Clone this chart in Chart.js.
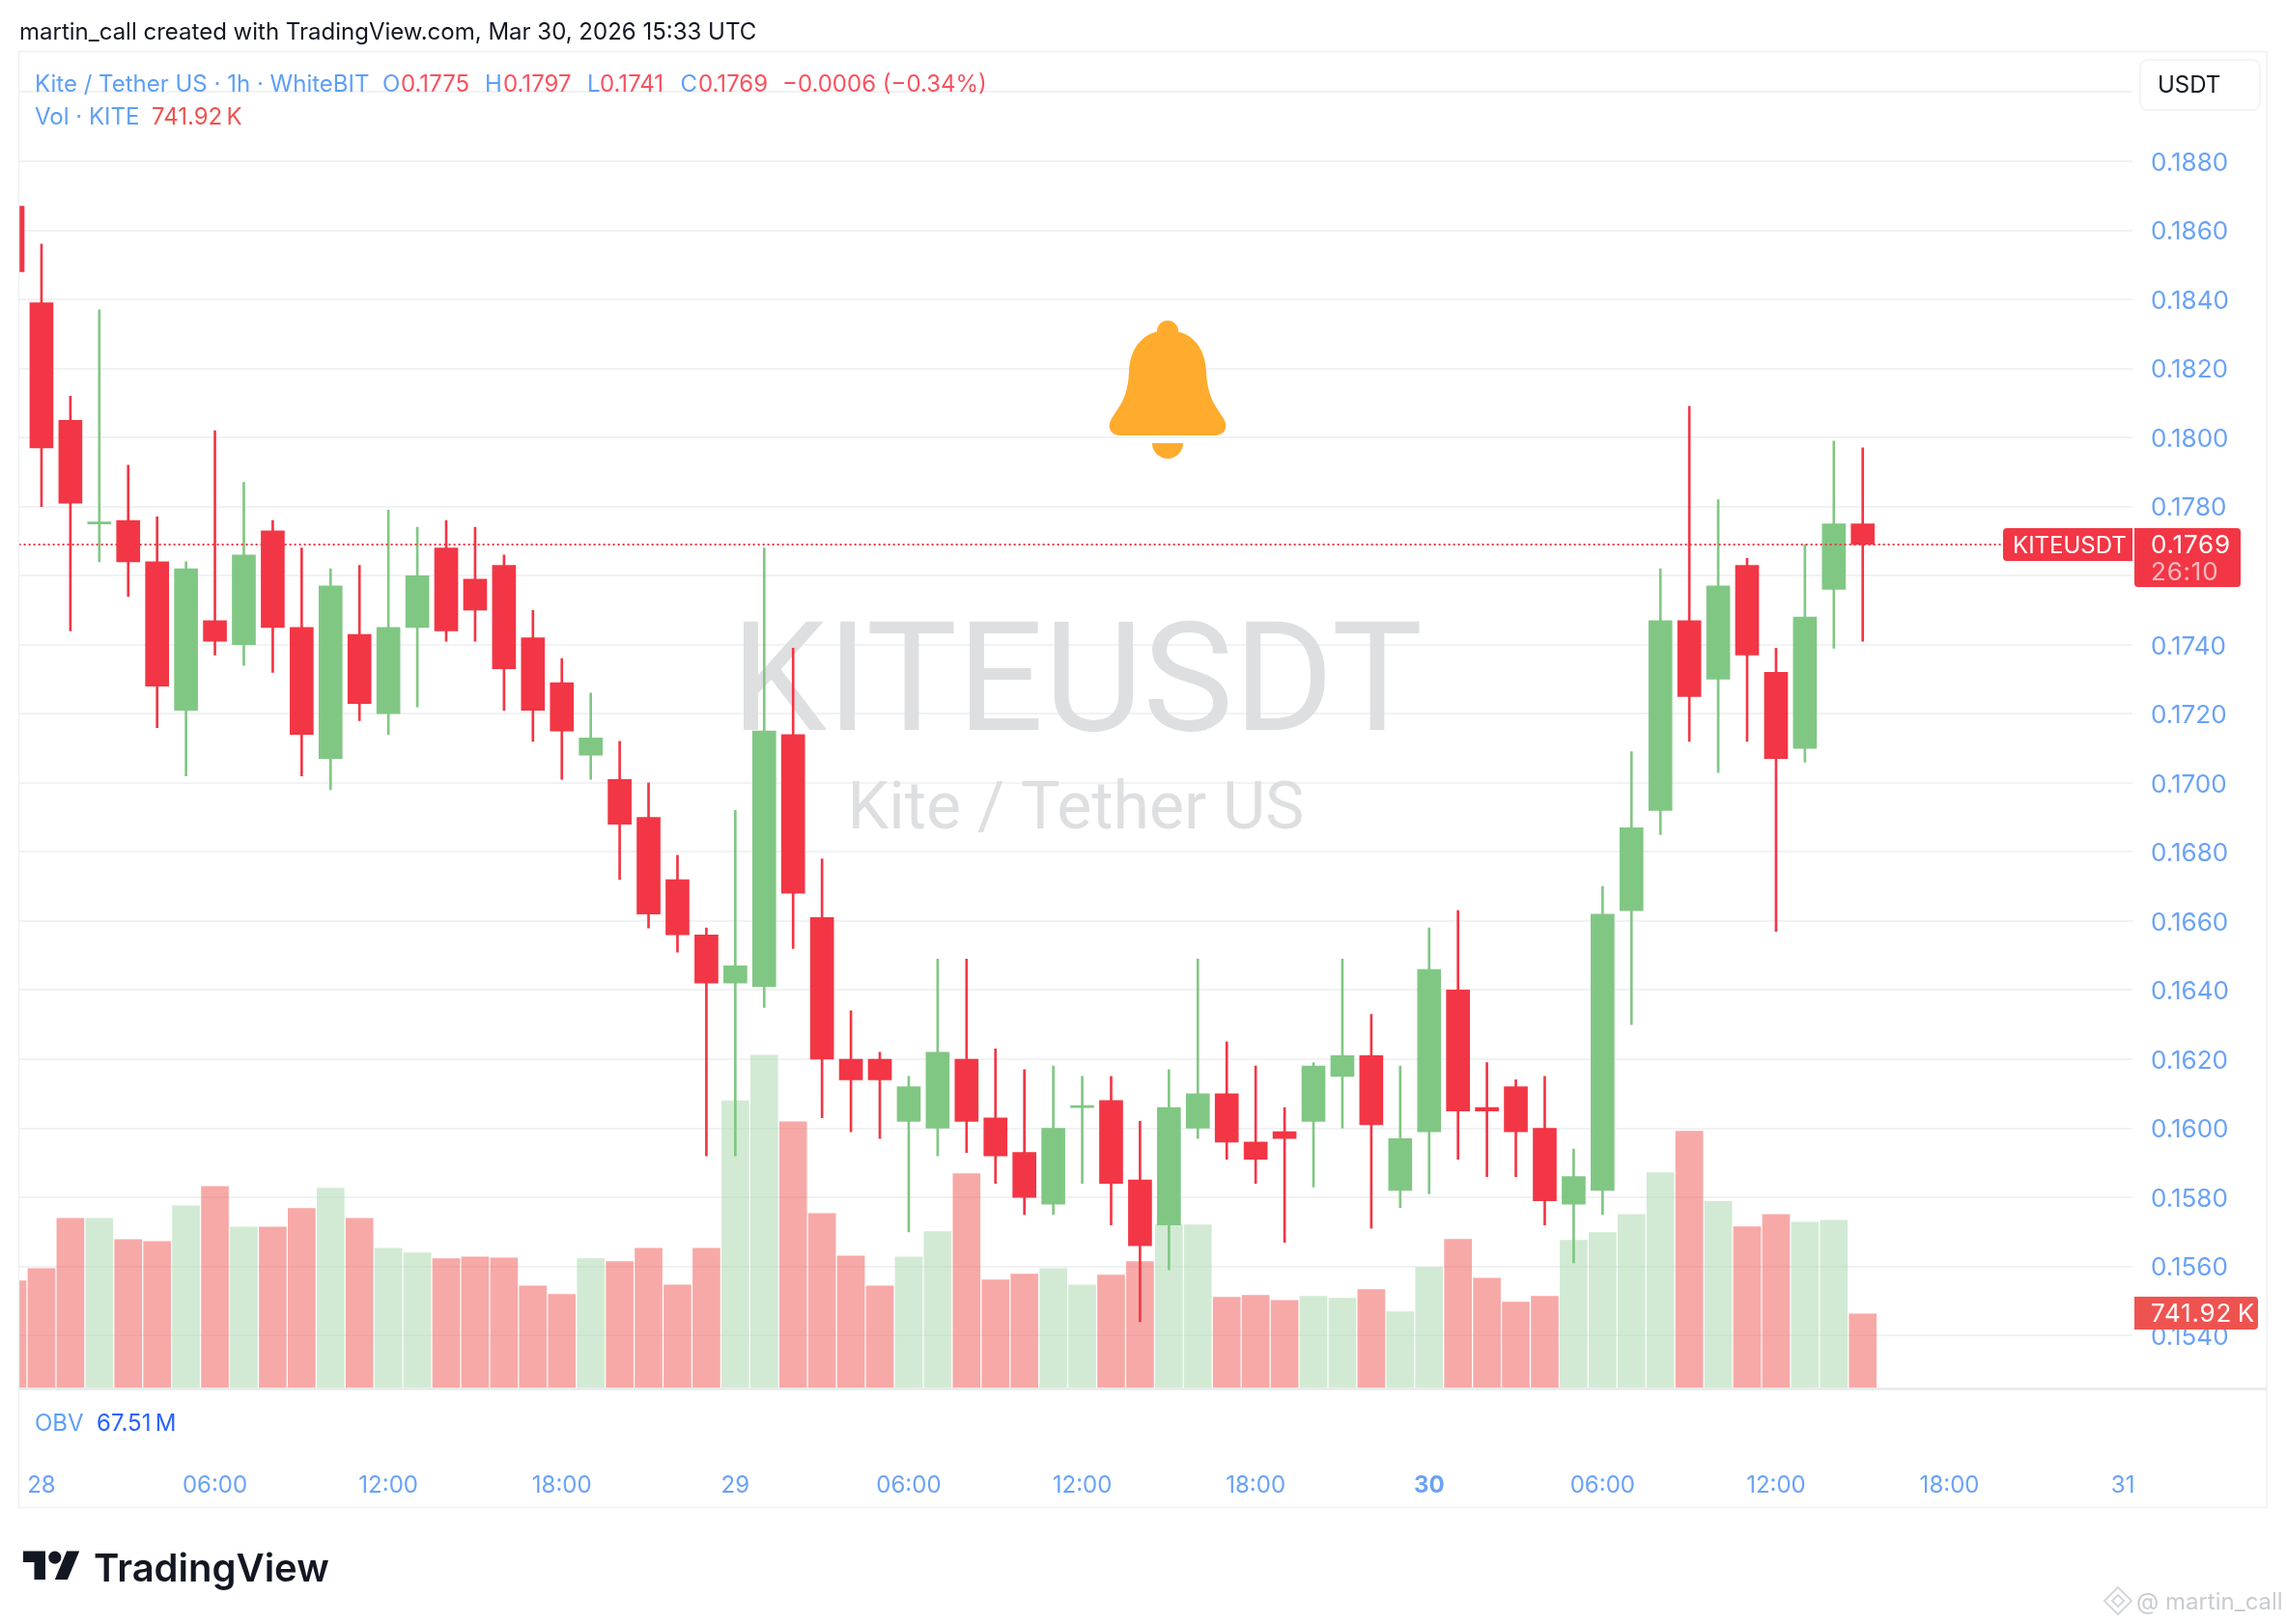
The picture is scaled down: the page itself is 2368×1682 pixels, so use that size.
<!DOCTYPE html>
<html><head><meta charset="utf-8">
<style>html,body{margin:0;padding:0;background:#fff}canvas{display:block}</style>
<script src="https://cdn.jsdelivr.net/npm/chart.js@4"></script>
</head><body><canvas id="c" width="2368" height="1682"></canvas>
<script>
const hours=[-1,0,1,2,3,4,5,6,7,8,9,10,11,12,13,14,15,16,17,18,19,20,21,22,23,24,25,26,27,28,29,30,31,32,33,34,35,36,37,38,39,40,41,42,43,44,45,46,47,48,49,50,51,52,53,54,55,56,57,58,59,60,61,62,63];
const opens=[.1867,.1839,.1805,.1775,.1776,.1764,.1721,.1747,.1740,.1773,.1745,.1707,.1743,.1720,.1745,.1768,.1759,.1763,.1742,.1729,.1708,.1701,.1690,.1672,.1656,.1642,.1641,.1714,.1661,.1620,.1620,.1602,.1600,.1620,.1603,.1593,.1578,.1606,.1608,.1585,.1572,.1600,.1610,.1596,.1599,.1602,.1615,.1621,.1582,.1599,.1640,.1606,.1612,.1600,.1578,.1582,.1663,.1692,.1747,.1730,.1763,.1732,.1710,.1756,.1775];
const highs=[.1870,.1856,.1812,.1837,.1792,.1777,.1764,.1802,.1787,.1776,.1768,.1762,.1763,.1779,.1774,.1776,.1774,.1766,.1750,.1736,.1726,.1712,.1700,.1679,.1658,.1692,.1768,.1739,.1678,.1634,.1622,.1615,.1649,.1649,.1623,.1617,.1618,.1615,.1615,.1602,.1617,.1649,.1625,.1618,.1606,.1619,.1649,.1633,.1618,.1658,.1663,.1619,.1614,.1615,.1594,.1670,.1709,.1762,.1809,.1782,.1765,.1739,.1769,.1799,.1797];
const lows=[.1845,.1780,.1744,.1764,.1754,.1716,.1702,.1737,.1734,.1732,.1702,.1698,.1718,.1714,.1722,.1741,.1741,.1721,.1712,.1701,.1701,.1672,.1658,.1651,.1592,.1592,.1635,.1652,.1603,.1599,.1597,.1570,.1592,.1593,.1584,.1575,.1575,.1584,.1572,.1544,.1559,.1597,.1591,.1584,.1567,.1583,.1600,.1571,.1577,.1581,.1591,.1586,.1586,.1572,.1561,.1575,.1630,.1685,.1712,.1703,.1712,.1657,.1706,.1739,.1741];
const closes=[.1848,.1797,.1781,.1775,.1764,.1728,.1762,.1741,.1766,.1745,.1714,.1757,.1723,.1745,.1760,.1744,.1750,.1733,.1721,.1715,.1713,.1688,.1662,.1656,.1642,.1647,.1715,.1668,.1620,.1614,.1614,.1612,.1622,.1602,.1592,.1580,.1600,.1606,.1584,.1566,.1606,.1610,.1596,.1591,.1597,.1618,.1621,.1601,.1597,.1646,.1605,.1605,.1599,.1579,.1586,.1662,.1687,.1747,.1725,.1757,.1737,.1707,.1748,.1775,.1769];
const volumes=[1073,1197,1700,1700,1487,1468,1826,2018,1613,1613,1800,2002,1700,1400,1354,1297,1312,1302,1022,939,1297,1266,1400,1032,1400,2879,3336,2667,1748,1323,1022,1312,1567,2148,1084,1141,1197,1032,1131,1266,1639,1634,908,929,877,918,898,986,763,1209,1489,1100,861,918,1479,1557,1738,2158,2573,1868,1614,1738,1660,1681,742];
const xTickLabels={0:'28',6:'06:00',12:'12:00',18:'18:00',24:'29',30:'06:00',36:'12:00',42:'18:00',48:'30',54:'06:00',60:'12:00',66:'18:00',72:'31'};
const currentPrice=.1769;
const FONT='Inter, "Noto Sans", sans-serif';
const RED='#F23645',GREEN='#81C784',BLUE='#6AA2F6',LEG='#5E9FF7',TXTRED='#F7525F';
const upFlags=hours.map((h,i)=>closes[i]>=opens[i]);
const pts=f=>hours.map((h,i)=>({x:h,y:f(i)}));
function txt(ctx,s,x,y,color,font,align){ctx.fillStyle=color;ctx.font=font;ctx.textAlign=align||'left';ctx.textBaseline='middle';ctx.fillText(s,x,y+1.5);}
function wm(ctx,s,x,y,font){ctx.fillStyle='#DEDFE1';ctx.font=font;ctx.textAlign='center';ctx.textBaseline='alphabetic';ctx.fillText(s,x,y);}
function rr(ctx,x,y,w,h,r){ctx.beginPath();ctx.roundRect(x,y,w,h,r);}
const decor={id:'decor',
 beforeDatasetsDraw(ch){const c=ch.ctx;c.save();
  wm(c,'KITEUSDT',1115,756,'400 158px Roboto, '+FONT);
  wm(c,'Kite / Tether US',1114,858,'400 68px Roboto, '+FONT);
  c.restore();},
 afterDraw(ch){const c=ch.ctx;c.save();
  c.strokeStyle='#EEF0F3';c.lineWidth=1.5;c.strokeRect(19.5,53.5,2327.5,1508);
  c.strokeStyle='#E6E8EB';c.lineWidth=2.5;c.beginPath();c.moveTo(19.5,1438.5);c.lineTo(2347,1438.5);c.stroke();
  txt(c,'martin_call created with TradingView.com, Mar 30, 2026 15:33 UTC',20,32,'#131722','400 24px '+FONT);
  const f='400 24px '+FONT;
  txt(c,'Kite / Tether US · 1h · WhiteBIT',36,86,LEG,f);
  [['O',396,'0.1775',415],['H',502,'0.1797',521],['L',608,'0.1741',621],['C',704.5,'0.1769',723]].forEach(a=>{txt(c,a[0],a[1],86,LEG,f);txt(c,a[2],a[3],86,TXTRED,f);});
  txt(c,'−0.0006 (−0.34%)',810,86,TXTRED,f);
  txt(c,'Vol · KITE',36,120,LEG,f);txt(c,'741.92\u2009K',157,120,'#EF5350',f);
  txt(c,'OBV',36,1473.5,LEG,f);txt(c,'67.51\u2009M',100,1473.5,'#2962FF',f);
  // USDT box
  c.fillStyle='#fff';rr(c,2216,62,124,52,8);c.fill();c.strokeStyle='#EEF0F3';c.lineWidth=1.5;c.stroke();
  txt(c,'USDT',2234,87,'#131722',f);
  // price tags
  const yp=ch.scales.y.getPixelForValue(currentPrice);
  c.fillStyle=RED;rr(c,2074,yp-17,134,34,[4,0,0,4]);c.fill();
  rr(c,2210,yp-17,110,61,[0,4,4,4]);c.fill();
  txt(c,'KITEUSDT',2084,yp,'#fff',f);
  c.letterSpacing='0.8px';
  txt(c,'0.1769',2227,yp,'#fff','400 26px '+FONT);txt(c,'26:10',2227,yp+28,'rgba(255,255,255,.65)','400 26px '+FONT);
  c.fillStyle='#EF5350';rr(c,2210,1343,128,34,[0,4,4,0]);c.fill();
  txt(c,'741.92\u2009K',2227,1360,'#fff','400 26px '+FONT);
  c.letterSpacing='0px';
  // bell
  c.fillStyle='#FFAB2E';const b=new Path2D();
  b.moveTo(1209,342);b.bezierCurveTo(1232,342,1248,358,1249,385);b.bezierCurveTo(1250,410,1258,420,1266,432);b.bezierCurveTo(1273,442,1268,451,1258,451);
  b.lineTo(1160,451);b.bezierCurveTo(1150,451,1145,442,1152,432);b.bezierCurveTo(1160,420,1168,410,1169,385);b.bezierCurveTo(1170,358,1186,342,1209,342);b.closePath();
  c.fill(b);c.beginPath();c.arc(1209,343,11,0,7);c.fill();
  c.beginPath();c.arc(1209,459,16,0,Math.PI);c.closePath();c.fill();
  // logo
  c.save();c.translate(24,1600);c.scale(1.64,1.64);c.fillStyle='#131722';
  c.fill(new Path2D('M14 22H7V11H0V4h14v18zM28 22h-8l7.5-18h8L28 22z'));c.beginPath();c.arc(20,8,4,0,7);c.fill();c.restore();
  txt(c,'TradingView',97,1624,'#131722','600 40px '+FONT);
  // source mark
  c.strokeStyle='#D5D7DB';c.lineWidth=2;c.beginPath();c.moveTo(2193,1644);c.lineTo(2207,1658);c.lineTo(2193,1672);c.lineTo(2179,1658);c.closePath();c.stroke();
  c.beginPath();c.moveTo(2193,1652);c.lineTo(2199,1658);c.lineTo(2193,1664);c.lineTo(2187,1658);c.closePath();c.stroke();
  txt(c,'@ martin_call',2212,1658,'#C9CCD0',f);
  c.restore();}
};
new Chart(document.getElementById('c'),{
 data:{datasets:[
  {type:'line',order:0,yAxisID:'y',data:[{x:-0.78,y:currentPrice},{x:67.86,y:currentPrice}],borderColor:RED,borderWidth:2,borderDash:[2,3],pointRadius:0,tension:0},
  {type:'bar',order:1,yAxisID:'y',grouped:false,barThickness:24,minBarLength:2,borderWidth:0,data:pts(i=>[opens[i],closes[i]]),backgroundColor:hours.map((h,i)=>upFlags[i]?GREEN:RED)},
  {type:'bar',order:2,yAxisID:'y',grouped:false,barThickness:2,borderWidth:0,data:pts(i=>[lows[i],highs[i]]),backgroundColor:hours.map((h,i)=>upFlags[i]?GREEN:RED)},
  {type:'bar',order:3,yAxisID:'vol',grouped:false,barThickness:28,borderWidth:0,data:pts(i=>volumes[i]),backgroundColor:hours.map((h,i)=>upFlags[i]?'rgba(165,214,167,.5)':'rgba(239,83,80,.5)')}
 ]},
 plugins:[decor],
 options:{responsive:false,animation:false,devicePixelRatio:1,
  layout:{padding:{left:19.6,top:53.6,right:0,bottom:0}},
  plugins:{legend:{display:false},tooltip:{enabled:false},title:{display:false}},
  scales:{
   x:{type:'linear',offset:false,min:-0.78,max:72.33,position:'bottom',grid:{display:false},border:{display:false},
      afterFit(s){s.height=1682-1437.5;s.paddingLeft=0;s.paddingRight=0;},
      ticks:{stepSize:6,includeBounds:false,autoSkip:false,maxRotation:0,padding:79,color:BLUE,
        font:ctx=>({family:FONT,size:24,weight:(ctx.tick&&ctx.tick.value===48)?'700':'400'}),
        callback:v=>xTickLabels[v]||''}},
   y:{type:'linear',position:'right',min:.15248,max:.19117,border:{display:false},
      grid:{color:'#F1F2F5',lineWidth:2,drawTicks:false},
      afterFit(s){s.width=160;s.paddingTop=0;s.paddingBottom=0;},
      ticks:{stepSize:.002,includeBounds:false,padding:19,labelOffset:2,color:BLUE,font:{family:FONT,size:26},callback:v=>v.toFixed(4)}},
   vol:{type:'linear',display:false,min:0,max:13391,grid:{display:false}}
  }}
});
</script></body></html>
